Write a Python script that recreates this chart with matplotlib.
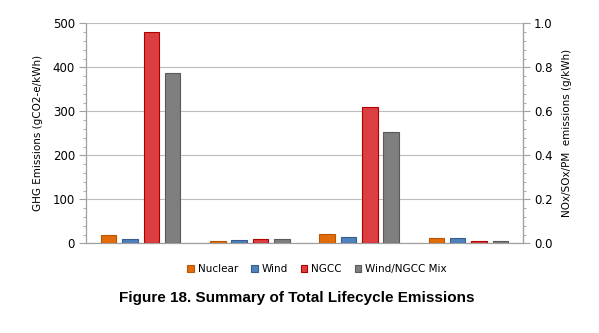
import matplotlib
matplotlib.use("Agg")
import matplotlib.pyplot as plt
import numpy as np
from matplotlib.ticker import MultipleLocator

groups = ["G1", "G2", "G3", "G4"]
series = ["Nuclear", "Wind", "NGCC", "Wind/NGCC Mix"]
nuclear = [18, 4.5, 21, 11.5]
wind = [9, 7, 14, 11.5]
ngcc = [480, 9, 310, 4.5]
mix = [386, 9, 252, 4.5]
values = [nuclear, wind, ngcc, mix]
face = ["#E36C0A", "#4F81BD", "#DC3F41", "#7F7F7F"]
edge = ["#B65708", "#385D8A", "#B00000", "#5A5A5A"]

fig = plt.figure(figsize=(5.99, 3.33), dpi=100)
ax = fig.add_axes([86/599, 1-243.3/333, (523-86)/599, (243.3-23.3)/333])

x = np.arange(len(groups))
w = 0.142
pitch = 0.195
for i, (vals, s) in enumerate(zip(values, series)):
    ax.bar(x + (i - 1.5) * pitch, vals, width=w, color=face[i], edgecolor=edge[i],
           linewidth=0.8, label=s, zorder=3)

ax.set_xlim(-0.5, 3.5)
ax.set_ylim(0, 500)
ax.set_xticks([])
ax.yaxis.set_major_locator(MultipleLocator(100))
ax.yaxis.set_minor_locator(MultipleLocator(20))
ax.grid(axis="y", which="major", color="#BDBDBD", linewidth=0.8, zorder=0)
for sp in ["top"]:
    ax.spines[sp].set_visible(False)
for sp in ["left", "right", "bottom"]:
    ax.spines[sp].set_color("#A0A0A0")
    ax.spines[sp].set_linewidth(0.9)
ax.tick_params(axis="y", which="major", length=5, color="#A0A0A0", labelsize=8.5, pad=3)
ax.tick_params(axis="y", which="minor", length=2.5, color="#A0A0A0")
ax.set_ylabel("GHG Emissions (gCO2-e/kWh)", fontsize=7.5, labelpad=7)

ax2 = ax.twinx()
ax2.set_ylim(0, 1.0)
ax2.yaxis.set_major_locator(MultipleLocator(0.2))
ax2.yaxis.set_minor_locator(MultipleLocator(0.04))
ax2.yaxis.set_major_formatter(matplotlib.ticker.FormatStrFormatter("%.1f"))
for sp in ["top", "left", "bottom"]:
    ax2.spines[sp].set_visible(False)
ax2.spines["right"].set_color("#A0A0A0")
ax2.tick_params(axis="y", which="major", length=5, color="#A0A0A0", labelsize=8.5, pad=3)
ax2.tick_params(axis="y", which="minor", length=2.5, color="#A0A0A0")
ax2.set_ylabel("NOx/SOx/PM  emissions (g/kWh)", fontsize=7.5, labelpad=7)

handles, labels = ax.get_legend_handles_labels()
fig.legend(handles, labels, loc="center", bbox_to_anchor=(317/599, 1-269/333), ncol=4,
           frameon=False, fontsize=7.5, handlelength=0.65, handleheight=0.65,
           handletextpad=0.35, columnspacing=1.25)

fig.text(297/599, 1-298/333, "Figure 18. Summary of Total Lifecycle Emissions",
         ha="center", va="center", fontsize=11, fontweight="bold", family="Liberation Sans")

fig.savefig("out.png", dpi=100)
